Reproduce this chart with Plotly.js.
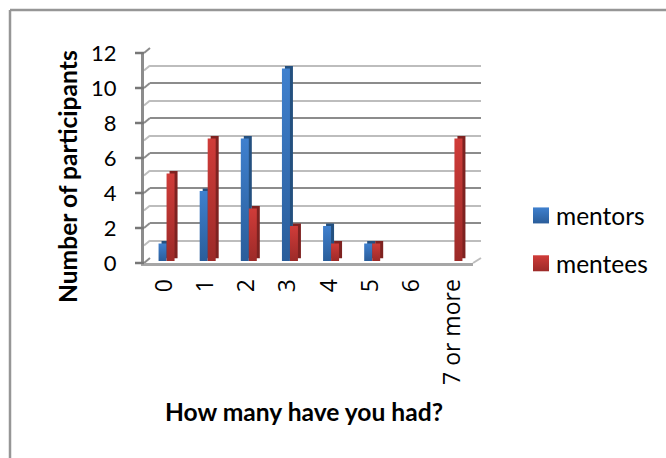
<!DOCTYPE html>
<html><head><meta charset="utf-8">
<script src="https://cdn.plot.ly/plotly-3.0.1.min.js"></script>
<style>html,body{margin:0;padding:0;background:#fff}</style></head>
<body><div id="chart" style="width:666px;height:458px"></div>
<script>
const categories = ["0","1","2","3","4","5","6","7 or more"];
const mentors = [1,4,7,11,2,1,0,0];
const mentees = [5,7,3,2,1,1,0,7];
const yTicks = [0,2,4,6,8,10,12];
const W=666,H=458,FONT='Lato, "Open Sans", sans-serif';
const AX='#8C8C8C';
const dx=v=>v/W, dy=v=>1-v/H;
const xDom=(a,b)=>[dx(a),dx(b)], yDom=(t,b)=>[dy(b),dy(t)];
const xrange=[-0.5,7.5], yrange=[0,12];
const hiddenAxis=(domain,anchor)=>({domain,anchor,range:xrange,type:'category',showgrid:false,showticklabels:false,ticks:'',showline:false,zeroline:false,fixedrange:true});
const hiddenY=(domain,anchor)=>({domain,anchor,range:yrange,showgrid:false,showticklabels:false,ticks:'',showline:false,zeroline:false,fixedrange:true});

const traces=[
 {type:'scatter',mode:'none',x:categories,y:mentors,xaxis:'x',yaxis:'y',showlegend:false,hoverinfo:'skip'},
 {type:'bar',name:'mentors depth',x:categories,y:mentors,xaxis:'x2',yaxis:'y2',marker:{color:'#24507F'},showlegend:false,hoverinfo:'skip'},
 {type:'bar',name:'mentees depth',x:categories,y:mentees,xaxis:'x2',yaxis:'y2',marker:{color:'#7E2220'},showlegend:false,hoverinfo:'skip'},
 {type:'bar',name:'mentors',x:categories,y:mentors,xaxis:'x3',yaxis:'y3',marker:{color:'#3672B8'},legendgroup:'a'},
 {type:'bar',name:'mentees',x:categories,y:mentees,xaxis:'x3',yaxis:'y3',marker:{color:'#B83432'},legendgroup:'b'},
 {type:'scatter',mode:'none',x:categories,y:mentees,xaxis:'x4',yaxis:'y4',showlegend:false,hoverinfo:'skip'}
];

const shapes=[];
const line=(x0,y0,x1,y1,color,width,layer)=>({type:'line',xref:'paper',yref:'paper',x0:dx(x0),y0:dy(y0),x1:dx(x1),y1:dy(y1),line:{color,width},layer:layer||'below'});
shapes.push(line(10,10,666,10,'#969696',2.5));
shapes.push(line(10,10,10,458,'#969696',2.5));
const FRONT_TOP=53,FRONT_BOTTOM=263,DEPTH_X=6,DEPTH_Y=5;
for(let v=0;v<=12;v++){
  const y=FRONT_BOTTOM-(FRONT_BOTTOM-FRONT_TOP)*v/12;
  shapes.push(line(144,y,144+DEPTH_X,y-DEPTH_Y,v%2?'#BDBDBD':'#8C8C8C',2));
  if(yTicks.includes(v)) shapes.push(line(135,y,144,y,'#777777',2.5,'above'));
}
shapes.push(line(473,263,481,258,'#BDBDBD',2));

const layout={
 width:W,height:H,margin:{l:0,r:0,t:0,b:0},paper_bgcolor:'#fff',plot_bgcolor:'rgba(0,0,0,0)',
 barmode:'group',bargap:0.611,bargroupgap:0,
 font:{family:FONT,color:'#000'},
 xaxis:hiddenAxis(xDom(150,481),'y'),
 yaxis:{domain:yDom(48,258),anchor:'x',range:yrange,dtick:2,tick0:0,showgrid:true,gridcolor:'#8C8C8C',gridwidth:2,
   minor:{dtick:1,showgrid:true,gridcolor:'#BDBDBD',gridwidth:2},
   showticklabels:false,ticks:'',showline:false,zeroline:false,fixedrange:true},
 xaxis2:hiddenAxis(xDom(149,478),'y2'),
 yaxis2:hiddenY(yDom(48.5,258.5),'x2'),
 xaxis3:hiddenAxis(xDom(146,475),'y3'),
 yaxis3:hiddenY(yDom(51,261),'x3'),
 xaxis4:{domain:xDom(144,473),anchor:'y4',range:xrange,type:'category',tickmode:'array',tickvals:categories,ticktext:categories,
   tickangle:-90,tickfont:{size:23,family:'"Open Sans", sans-serif',color:'#000'},ticks:'',ticklabelstandoff:4,showgrid:false,showline:true,linecolor:'#A6A6A6',linewidth:3,zeroline:false,fixedrange:true},
 yaxis4:{domain:yDom(53,263),anchor:'x4',range:yrange,tickmode:'array',tickvals:yTicks,ticks:'outside',ticklen:20,tickwidth:2,tickcolor:'rgba(0,0,0,0)',
   tickfont:{size:22,family:FONT,color:'#000'},showgrid:false,showline:true,linecolor:AX,linewidth:3,zeroline:false,fixedrange:true},
 legend:{x:516/W,y:dy(193),xanchor:'left',yanchor:'top',font:{size:24.5,family:FONT,color:'#000'},traceorder:'grouped',tracegroupgap:13,itemwidth:30,bgcolor:'rgba(0,0,0,0)'},
 shapes,
 annotations:[
  {xref:'paper',yref:'paper',x:dx(68),y:dy(177),xanchor:'center',yanchor:'middle',text:'<b>Number of participants</b>',textangle:-90,showarrow:false,font:{size:24.6,family:FONT,color:'#000'}},
  {xref:'paper',yref:'paper',x:dx(304),y:dy(411),xanchor:'center',yanchor:'middle',text:'<b>How many have you had?</b>',showarrow:false,font:{size:24.6,family:FONT,color:'#000'}}
 ]
};
Plotly.newPlot('chart',traces,layout,{displayModeBar:false,staticPlot:true}).then(gd=>{
  const svg=gd.querySelector('svg.main-svg');
  const NS='http://www.w3.org/2000/svg';
  const defs=document.createElementNS(NS,'defs');
  const grad=(id,a,b)=>{const g=document.createElementNS(NS,'linearGradient');g.id=id;g.setAttribute('x1','0');g.setAttribute('y1','0');g.setAttribute('x2','0');g.setAttribute('y2','1');
    [[0,a],[1,b]].forEach(([o,c])=>{const s=document.createElementNS(NS,'stop');s.setAttribute('offset',o);s.setAttribute('stop-color',c);g.appendChild(s);});defs.appendChild(g);};
  grad('gBlue','#3F80CE','#2A5D9A');grad('gRed','#D03C39','#9C2A28');
  svg.insertBefore(defs,svg.firstChild);
  const recolor=p=>{const f=p.style.fill.replace(/\s/g,'');
    if(f==='rgb(54,114,184)')p.style.fill='url(#gBlue)';
    if(f==='rgb(184,52,50)')p.style.fill='url(#gRed)';};
  gd.querySelectorAll('.barlayer .trace .point path').forEach(recolor);
  gd.querySelectorAll('.legend .legendpoints path').forEach(p=>{
    p.setAttribute('d','M13,8H-3V-8H13Z');recolor(p);p.style.stroke='none';
  });
});
</script></body></html>
